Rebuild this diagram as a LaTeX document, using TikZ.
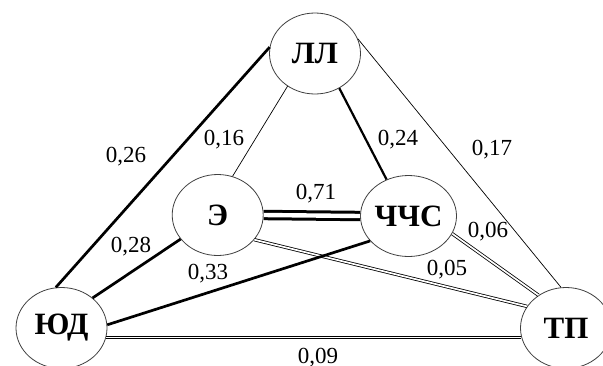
\documentclass[tikz,border=0pt]{standalone}
\usepackage{fontspec}
\setmainfont{Liberation Serif}
\usetikzlibrary{shapes.geometric}
\begin{document}
\begin{tikzpicture}[x=1pt,y=-1pt,
  factor/.style={ellipse,draw=black!75,line width=0.8pt,fill=white,
    minimum width=91pt,minimum height=81pt,inner sep=0pt,
    font=\fontsize{31}{34}\selectfont\bfseries},
  weight/.style={inner sep=0pt,text depth=0pt,font=\fontsize{23}{26}\selectfont},
  strong/.style={line width=2.7pt},
  weak/.style={line width=0.7pt},
  twin/.style={double,double distance=1.7pt,line width=0.8pt},
  twinbold/.style={double,double distance=4.4pt,line width=3pt}]
\useasboundingbox (0,0) rectangle (603,365);

% factors
\node[factor] (LL)  at (315,53.5) {ЛЛ};
\node[factor] (E)   at (217.7,215) {Э};
\node[factor] (CHS) at (408.5,216) {ЧЧС};
\node[factor] (YD)  at (61.5,328) {ЮД};
\node[factor] (TP)  at (566,328) {ТП};

% links
\draw[strong] (YD.98) -- (LL.172);
\draw[weak] (LL.230) -- (E.69);
\draw[strong,line width=2.2pt] (LL.305) -- (CHS.121);
\draw[weak] (LL.19) -- (TP.97);
\draw[twinbold] (E.0) -- (CHS.180);
\draw[twin] (E.-34) -- (TP.151);
\draw[twin] (CHS.-22) -- (TP.130);
\draw[twin] (YD.-12) -- (TP.192);
\draw[strong] (YD.44.5) -- (E.213.5);
\draw[strong] (YD.4) -- (CHS.213.7);

% weights
\node[weight] (w26) at (126,155) {0,26};
\node[weight] (w16) at (224,137.5) {0,16};
\node[weight] (w24) at (398,137.5) {0,24};
\node[weight] (w17) at (492,148) {0,17};
\node[weight] (w71) at (316,192) {0,71};
\node[weight] (w28) at (131,245) {0,28};
\node[weight] (w06) at (488,230) {0,06};
\node[weight] (w05) at (447,268) {0,05};
\node[weight] (w33) at (208,272) {0,33};
\node[weight] (w09) at (318,356) {0,09};
\end{tikzpicture}
\end{document}
